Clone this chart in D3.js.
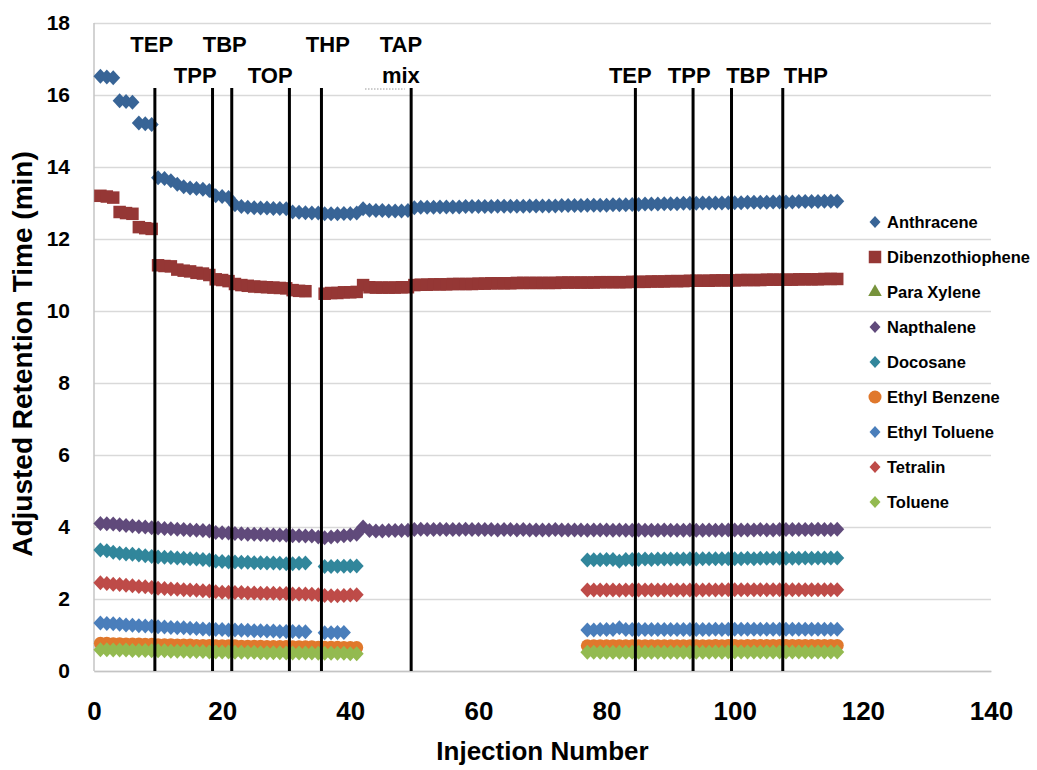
<!DOCTYPE html>
<html>
<head>
<meta charset="utf-8">
<script src="https://cdn.jsdelivr.net/npm/d3@7"></script>
<style>
  body { margin: 0; background: #fff; }
  text { font-family: "Liberation Sans", Arial, sans-serif; font-weight: bold; fill: #000; }
</style>
</head>
<body>
<svg id="chart" width="1037" height="770"></svg>
<script>
// ---- data ----
var xTicks = [0, 20, 40, 60, 80, 100, 120, 140];
var yTicks = [0, 2, 4, 6, 8, 10, 12, 14, 16, 18];

// each series: runs of consecutive injections, [first injection, values...]
var anthracene = [
  [1, 16.52, 16.5, 16.48, 15.84, 15.82, 15.8, 15.22, 15.2, 15.18,
      13.7, 13.68, 13.62, 13.52, 13.45, 13.42, 13.4, 13.38, 13.35, 13.2, 13.18, 13.15, 12.95, 12.9,
      12.88, 12.87, 12.86, 12.86, 12.85, 12.85, 12.84,
      12.75, 12.74, 12.73, 12.72, 12.72, 12.7, 12.7, 12.7, 12.71, 12.71, 12.72,
      12.84, 12.8, 12.79, 12.79, 12.78, 12.78, 12.78, 12.79,
      12.87, 12.88, 12.88, 12.88, 12.89, 12.89, 12.89, 12.89, 12.9, 12.9,
      12.9, 12.9, 12.9, 12.91, 12.91, 12.91, 12.91, 12.91, 12.92, 12.92,
      12.92, 12.92, 12.92, 12.93, 12.93, 12.93, 12.93, 12.94, 12.94, 12.94,
      12.94, 12.95, 12.95, 12.95, 12.96, 12.96, 12.97, 12.97, 12.97, 12.98,
      12.98, 12.98, 12.99, 12.99, 12.99, 13.0, 13.0, 13.0, 13.0, 13.01,
      13.01, 13.01, 13.02, 13.02, 13.02, 13.02, 13.03, 13.03, 13.03, 13.03,
      13.04, 13.04, 13.04, 13.04, 13.05, 13.05, 13.05]
];
var dibenzothiophene = [
  [1, 13.2, 13.18, 13.15, 12.75, 12.72, 12.7, 12.33, 12.3, 12.28,
      11.27, 11.25, 11.24, 11.15, 11.12, 11.1, 11.06, 11.04, 11.0,
      10.88, 10.86, 10.83,
      10.75, 10.72, 10.7, 10.68, 10.67, 10.66, 10.65, 10.64, 10.63,
      10.58, 10.56, 10.55],
  [36, 10.48, 10.5, 10.5, 10.52, 10.52, 10.53,
      10.72, 10.66, 10.65, 10.65, 10.65, 10.65, 10.66, 10.66,
      10.72, 10.73, 10.73, 10.74, 10.74, 10.74, 10.75, 10.75, 10.75, 10.75,
      10.76, 10.76, 10.77, 10.77, 10.77, 10.77, 10.78, 10.78, 10.78, 10.78,
      10.78, 10.78, 10.78, 10.79, 10.79, 10.79, 10.79, 10.79, 10.79, 10.8,
      10.8, 10.8, 10.8, 10.8, 10.81, 10.81, 10.81, 10.82, 10.82, 10.82,
      10.83, 10.83, 10.83, 10.84, 10.84, 10.84, 10.84, 10.85, 10.85, 10.85,
      10.85, 10.86, 10.86, 10.86, 10.86, 10.87, 10.87, 10.87, 10.87, 10.87,
      10.88, 10.88, 10.88, 10.88, 10.89, 10.89, 10.89]
];
var paraXylene = [];
var napthalene = [
  [1, 4.1, 4.09, 4.08, 4.06, 4.04, 4.03, 4.01, 4.0, 3.98, 3.97,
      3.96, 3.95, 3.94, 3.93, 3.92, 3.91, 3.9, 3.89, 3.85, 3.84,
      3.83, 3.82, 3.81, 3.8, 3.8, 3.79, 3.79, 3.78, 3.78, 3.77,
      3.76, 3.76, 3.75, 3.75, 3.72, 3.7, 3.72, 3.74, 3.76, 3.78, 3.8,
      4.0, 3.9, 3.89, 3.89, 3.9, 3.9, 3.9, 3.91,
      3.93, 3.94, 3.93, 3.93, 3.94, 3.93, 3.93, 3.93, 3.94, 3.93,
      3.93, 3.93, 3.93, 3.92, 3.93, 3.93, 3.92, 3.93, 3.92, 3.92,
      3.92, 3.92, 3.93, 3.92, 3.92, 3.92, 3.92, 3.91, 3.92, 3.92,
      3.92, 3.91, 3.92, 3.91, 3.91, 3.92, 3.91, 3.91, 3.91, 3.92,
      3.91, 3.91, 3.91, 3.92, 3.91, 3.91, 3.92, 3.91, 3.92, 3.92,
      3.92, 3.92, 3.92, 3.92, 3.93, 3.92, 3.92, 3.93, 3.93, 3.93,
      3.93, 3.93, 3.93, 3.94, 3.93, 3.93, 3.94]
];
var docosane = [
  [1, 3.36, 3.34, 3.3, 3.27, 3.25, 3.24, 3.22, 3.2, 3.18, 3.17,
      3.16, 3.15, 3.14, 3.13, 3.12, 3.11, 3.1, 3.08, 3.05, 3.04,
      3.03, 3.03, 3.02, 3.02, 3.01, 3.01, 3.0, 3.0, 2.99, 2.98, 2.98, 2.99, 3.0],
  [36, 2.9, 2.9, 2.91, 2.91, 2.92, 2.92],
  [77, 3.08, 3.09, 3.09, 3.1, 3.1, 3.05, 3.1, 3.1, 3.1, 3.11,
       3.1, 3.11, 3.11, 3.11, 3.11, 3.11, 3.12, 3.11, 3.12, 3.12,
       3.12, 3.12, 3.12, 3.12, 3.12, 3.13, 3.12, 3.13, 3.13, 3.13,
       3.13, 3.13, 3.13, 3.13, 3.14, 3.13, 3.14, 3.14, 3.14, 3.14]
];
var ethylBenzene = [
  [1, 0.77, 0.77, 0.76, 0.76, 0.75, 0.75, 0.75, 0.74, 0.74, 0.73,
      0.73, 0.73, 0.72, 0.72, 0.72, 0.71, 0.71, 0.71, 0.7, 0.7,
      0.7, 0.7, 0.69, 0.69, 0.69, 0.69, 0.68, 0.68, 0.68, 0.68,
      0.67, 0.67, 0.67, 0.67, 0.66, 0.66, 0.66, 0.66, 0.65, 0.65, 0.65],
  [77, 0.7, 0.7, 0.7, 0.7, 0.7, 0.7, 0.7, 0.7, 0.7, 0.7,
       0.7, 0.7, 0.7, 0.7, 0.7, 0.7, 0.7, 0.7, 0.7, 0.7,
       0.71, 0.7, 0.71, 0.71, 0.7, 0.71, 0.71, 0.71, 0.71, 0.71,
       0.71, 0.71, 0.71, 0.71, 0.71, 0.71, 0.71, 0.71, 0.71, 0.71]
];
var ethylToluene = [
  [1, 1.33, 1.32, 1.31, 1.3, 1.28, 1.27, 1.26, 1.25, 1.24, 1.23,
      1.22, 1.21, 1.2, 1.2, 1.19, 1.18, 1.17, 1.16, 1.15, 1.15,
      1.14, 1.14, 1.13, 1.13, 1.12, 1.12, 1.11, 1.11, 1.1, 1.1, 1.1, 1.09, 1.09],
  [36, 1.06, 1.06, 1.07, 1.07],
  [77, 1.14, 1.14, 1.15, 1.15, 1.15, 1.2, 1.15, 1.15, 1.15, 1.15,
       1.15, 1.15, 1.15, 1.15, 1.15, 1.15, 1.15, 1.15, 1.15, 1.15,
       1.16, 1.15, 1.16, 1.16, 1.16, 1.16, 1.16, 1.16, 1.16, 1.16,
       1.16, 1.16, 1.16, 1.16, 1.16, 1.16, 1.16, 1.16, 1.16, 1.16]
];
var tetralin = [
  [1, 2.45, 2.43, 2.41, 2.4, 2.38, 2.37, 2.35, 2.34, 2.32, 2.3,
      2.29, 2.28, 2.27, 2.26, 2.25, 2.24, 2.23, 2.22, 2.2, 2.19,
      2.19, 2.18, 2.18, 2.17, 2.17, 2.16, 2.16, 2.16, 2.15, 2.15,
      2.14, 2.14, 2.14, 2.13, 2.12, 2.1, 2.09, 2.09, 2.1, 2.11, 2.12],
  [77, 2.25, 2.25, 2.25, 2.25, 2.25, 2.24, 2.25, 2.25, 2.25, 2.25,
       2.25, 2.25, 2.25, 2.25, 2.25, 2.25, 2.25, 2.25, 2.25, 2.26,
       2.25, 2.26, 2.26, 2.26, 2.26, 2.26, 2.26, 2.26, 2.26, 2.26,
       2.26, 2.26, 2.26, 2.26, 2.26, 2.26, 2.26, 2.26, 2.26, 2.26]
];
var toluene = [
  [1, 0.59, 0.59, 0.58, 0.58, 0.58, 0.57, 0.57, 0.57, 0.56, 0.56,
      0.56, 0.55, 0.55, 0.55, 0.54, 0.54, 0.54, 0.53, 0.53, 0.53,
      0.53, 0.52, 0.52, 0.52, 0.52, 0.51, 0.51, 0.51, 0.51, 0.5,
      0.5, 0.5, 0.5, 0.5, 0.49, 0.49, 0.49, 0.49, 0.49, 0.48, 0.48],
  [77, 0.52, 0.52, 0.52, 0.52, 0.52, 0.52, 0.52, 0.52, 0.52, 0.52,
       0.52, 0.52, 0.52, 0.52, 0.52, 0.52, 0.52, 0.52, 0.52, 0.52,
       0.53, 0.52, 0.53, 0.53, 0.53, 0.53, 0.53, 0.53, 0.53, 0.53,
       0.53, 0.53, 0.53, 0.53, 0.53, 0.53, 0.53, 0.53, 0.53, 0.53]
];

var seriesNames = ["Anthracene", "Dibenzothiophene", "Para Xylene", "Napthalene", "Docosane",
                   "Ethyl Benzene", "Ethyl Toluene", "Tetralin", "Toluene"];
var seriesRuns = [anthracene, dibenzothiophene, paraXylene, napthalene, docosane,
                  ethylBenzene, ethylToluene, tetralin, toluene];
var seriesColors = ["#386496", "#953735", "#77933C", "#604A7B", "#31869B",
                    "#E0782C", "#4A7EBB", "#BE4B48", "#93BA50"];
var seriesShapes = ["diamond", "square", "triangle", "diamond", "diamond",
                    "circle", "diamond", "diamond", "diamond"];

// solvent injections marked on the chart
var eventLines = [9.5, 18.5, 21.5, 30.5, 35.5, 49.5, 84.5, 93.5, 99.5, 107.5];
var eventLabels = ["TEP", "TPP", "TBP", "TOP", "THP", "TAP", "mix", "TEP", "TPP", "TBP", "THP"];
var eventLabelAt = [9.0, 15.8, 20.4, 27.5, 36.5, 47.9, 47.9, 83.7, 92.9, 102.1, 111.1];
var eventLabelRow = [0, 1, 0, 1, 0, 0, 1, 1, 1, 1, 1];

// ---- chart ----
var svg = d3.select("#chart");
var plotLeft = 94, plotRight = 991, plotTop = 23, plotBottom = 671;

var xScale = d3.scaleLinear().domain([0, 140]).range([plotLeft, plotRight]);
var yScale = d3.scaleLinear().domain([0, 18]).range([plotBottom, plotTop]);

// gridlines + y labels
var yAxis = d3.axisLeft(yScale).tickValues(yTicks).tickSize(-(plotRight - plotLeft)).tickPadding(24);
var gy = svg.append("g").attr("transform", "translate(" + plotLeft + ",0)").call(yAxis);
gy.select(".domain").remove();
gy.selectAll(".tick line").attr("stroke", "#d9d9d9").attr("stroke-width", 1.5);
gy.selectAll(".tick text").attr("font-size", "21px").attr("font-family", null);

// axis lines
svg.append("line").attr("x1", plotLeft).attr("x2", plotLeft).attr("y1", plotTop).attr("y2", plotBottom)
  .attr("stroke", "#c4c4c4").attr("stroke-width", 1.5);

var xAxis = d3.axisBottom(xScale).tickValues(xTicks).tickSize(0).tickPadding(31);
var gx = svg.append("g").attr("transform", "translate(0," + plotBottom + ")").call(xAxis);
gx.select(".domain").attr("stroke", "#c4c4c4").attr("stroke-width", 1.5);
gx.selectAll(".tick text").attr("font-size", "26px").attr("font-family", null);

// markers
function markerPath(shape) {
  if (shape == "diamond") return "M0,-7.5L7,0L0,7.5L-7,0Z";
  if (shape == "square") return d3.symbol(d3.symbolSquare, 156)();
  if (shape == "circle") return d3.symbol(d3.symbolCircle, 133)();
  return d3.symbol(d3.symbolTriangle, 80)();
}

seriesRuns.forEach(function(runs, i) {
  var pts = [];
  runs.forEach(function(run) {
    run.slice(1).forEach(function(v, k) { pts.push({ inj: run[0] + k, value: v }); });
  });
  svg.append("g").attr("class", "series")
    .selectAll("path").data(pts).enter()
    .append("path")
    .attr("d", markerPath(seriesShapes[i]))
    .attr("transform", function(d) { return "translate(" + xScale(d.inj) + "," + yScale(d.value) + ")"; })
    .attr("fill", seriesColors[i]);
});

// event lines and labels
svg.append("g").selectAll("line").data(eventLines).enter()
  .append("line")
  .attr("x1", function(d) { return xScale(d); })
  .attr("x2", function(d) { return xScale(d); })
  .attr("y1", 88).attr("y2", plotBottom)
  .attr("stroke", "#000").attr("stroke-width", 3);

svg.append("g").selectAll("text").data(eventLabels).enter()
  .append("text")
  .attr("x", function(d, i) { return xScale(eventLabelAt[i]); })
  .attr("y", function(d, i) { return eventLabelRow[i] == 0 ? 52 : 83; })
  .attr("text-anchor", "middle")
  .attr("font-size", "22px")
  .text(function(d) { return d; });

// small dotted mark under "mix"
svg.append("line")
  .attr("x1", xScale(42.3)).attr("x2", xScale(48.5))
  .attr("y1", 89).attr("y2", 89)
  .attr("stroke", "#999").attr("stroke-width", 1).attr("stroke-dasharray", "1.5,1.5");

// legend
var legend = svg.append("g").attr("transform", "translate(875,222)");
var item = legend.selectAll("g").data(seriesNames).enter()
  .append("g")
  .attr("transform", function(d, i) { return "translate(0," + (i * 35) + ")"; });
item.append("path")
  .attr("d", function(d, i) {
    if (seriesShapes[i] == "diamond") return "M0,-6L5.5,0L0,6L-5.5,0Z";
    return markerPath(seriesShapes[i]);
  })
  .attr("fill", function(d, i) { return seriesColors[i]; });
item.append("text")
  .attr("x", 12).attr("y", 6)
  .attr("font-size", "16.5px")
  .text(function(d) { return d; });

// axis titles
svg.append("text")
  .attr("x", (plotLeft + plotRight) / 2).attr("y", 760)
  .attr("text-anchor", "middle")
  .attr("font-size", "26px")
  .text("Injection Number");

svg.append("text")
  .attr("transform", "translate(32," + (354) + ") rotate(-90)")
  .attr("text-anchor", "middle")
  .attr("font-size", "28px")
  .text("Adjusted Retention Time (min)");
</script>
</body>
</html>
